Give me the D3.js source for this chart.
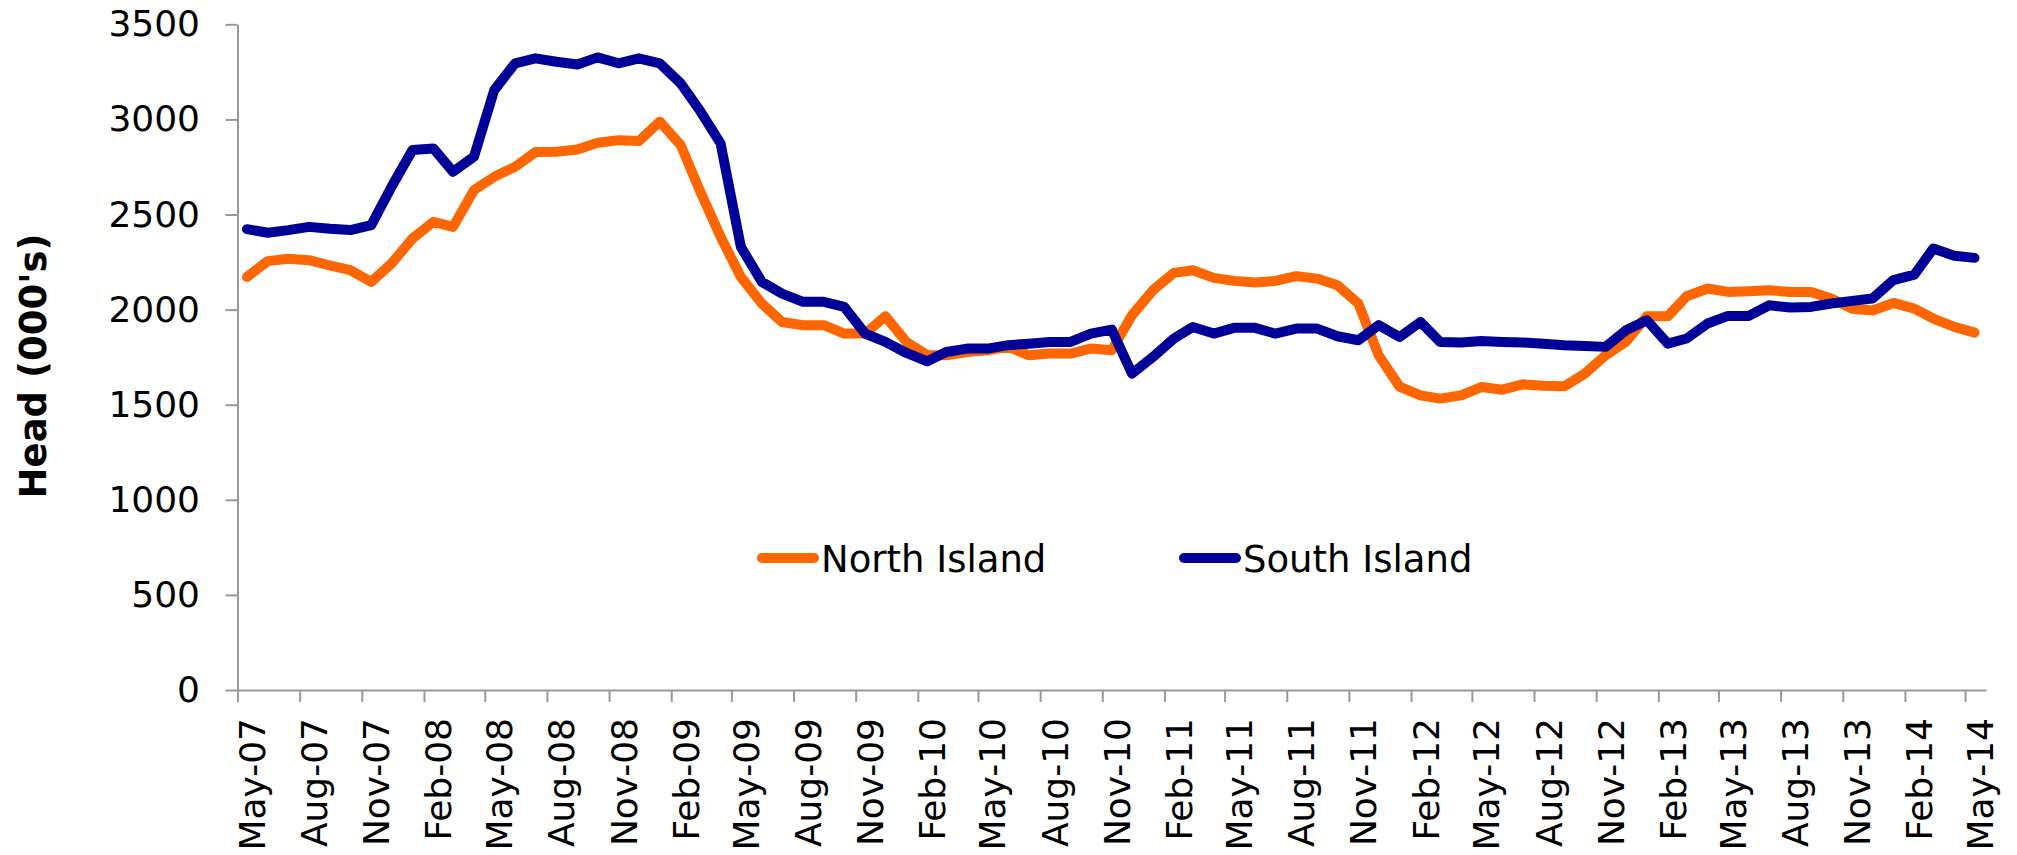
<!DOCTYPE html>
<html>
<head>
<meta charset="utf-8">
<script src="https://cdn.jsdelivr.net/npm/d3@7"></script>
<style>
  body { margin: 0; background: #fff; }
  text { font-family: "DejaVu Sans", Verdana, sans-serif; fill: #000; }
</style>
</head>
<body>
<script>
// monthly head counts (000's), May-07 .. May-14
var northIsland = [2172, 2255, 2267, 2260, 2232, 2207, 2146, 2242, 2374, 2461, 2435, 2628,
  2698, 2751, 2828, 2830, 2842, 2877, 2891, 2886, 2988, 2865, 2628, 2383,
  2172, 2032, 1935, 1918, 1918, 1874, 1874, 1965, 1830, 1760, 1760, 1777,
  1786, 1804, 1760, 1769, 1769, 1795, 1786, 1970, 2102, 2193, 2207, 2167,
  2151, 2142, 2151, 2176, 2163, 2128, 2032, 1760, 1595, 1549, 1532, 1549,
  1593, 1579, 1607, 1600, 1597, 1663, 1760, 1830, 1965, 1965, 2070, 2111,
  2093, 2097, 2102, 2093, 2093, 2058, 2005, 1995, 2035, 2005, 1953, 1909, 1879];

var southIsland = [2423, 2404, 2418, 2435, 2425, 2418, 2444, 2646, 2839, 2847, 2725, 2804,
  3154, 3295, 3321, 3303, 3289, 3326, 3295, 3321, 3295, 3189, 3049, 2874,
  2330, 2146, 2084, 2041, 2041, 2014, 1874, 1830, 1772, 1728, 1777, 1795,
  1795, 1813, 1821, 1830, 1830, 1874, 1895, 1663, 1751, 1848, 1909, 1874,
  1904, 1904, 1874, 1900, 1900, 1860, 1839, 1918, 1856, 1935, 1830, 1827,
  1835, 1830, 1827, 1821, 1813, 1809, 1804, 1891, 1944, 1821, 1848, 1927,
  1967, 1967, 2023, 2011, 2014, 2032, 2046, 2058, 2155, 2184, 2321, 2283, 2272];

var seriesNames = ["North Island", "South Island"];
var seriesColours = ["#FF6600", "#000099"];

var tickLabels = ["May-07", "Aug-07", "Nov-07", "Feb-08", "May-08", "Aug-08", "Nov-08",
  "Feb-09", "May-09", "Aug-09", "Nov-09", "Feb-10", "May-10", "Aug-10", "Nov-10",
  "Feb-11", "May-11", "Aug-11", "Nov-11", "Feb-12", "May-12", "Aug-12", "Nov-12",
  "Feb-13", "May-13", "Aug-13", "Nov-13", "Feb-14", "May-14"];

var yTicks = [0, 500, 1000, 1500, 2000, 2500, 3000, 3500];

var w = 2017;
var h = 855;
var plotLeft = 237.5;
var plotRight = 1986;
var plotTop = 24.3;
var plotBottom = 690;

// points sit mid-month on a date axis
var dates = northIsland.map(function(d, i){ return new Date(2007, 4 + i, 15); });
var tickDates = tickLabels.map(function(d, i){ return new Date(2007, 4 + i * 3, 1); });

var svg = d3.select("body")
  .append("svg")
  .attr("width", w)
  .attr("height", h);

var xScale = d3.scaleTime()
  .domain([new Date(2007, 4, 1), new Date(2007, 4 + northIsland.length, 1)])
  .range([plotLeft, plotRight]);

var yScale = d3.scaleLinear()
  .domain([0, 3500])
  .range([plotBottom, plotTop]);

var xAxis = d3.axisBottom(xScale)
  .tickValues(tickDates)
  .tickSize(12)
  .tickSizeOuter(0)
  .tickFormat(function(d, i){ return tickLabels[i]; });

var yAxis = d3.axisLeft(yScale)
  .tickValues(yTicks)
  .tickSize(12)
  .tickSizeOuter(0)
  .tickPadding(25.5)
  .tickFormat(d3.format("d"));

var gx = svg.append("g")
  .attr("transform", "translate(0," + plotBottom + ")")
  .call(xAxis);

gx.selectAll("text")
  .attr("x", -28)
  .attr("y", 0)
  .attr("dy", 27)
  .attr("transform", "rotate(-90)")
  .style("text-anchor", "end")
  .style("font-size", "36px");

var gy = svg.append("g")
  .attr("transform", "translate(" + plotLeft + ",0)")
  .call(yAxis);

gy.selectAll("text").style("font-size", "36px");

svg.selectAll(".domain, .tick line")
  .attr("stroke", "#999999")
  .attr("stroke-width", 2);

svg.append("text")
  .attr("transform", "translate(46,366) rotate(-90)")
  .style("text-anchor", "middle")
  .style("font-size", "37px")
  .style("font-weight", "bold")
  .text("Head (000's)");

var line = d3.line()
  .x(function(d){ return xScale(d.date); })
  .y(function(d){ return yScale(d.value); });

var series = [northIsland, southIsland].map(function(vals, k){
  return {
    name: seriesNames[k],
    colour: seriesColours[k],
    values: vals.map(function(v, i){ return { date: dates[i], value: v }; })
  };
});

svg.selectAll(".series")
  .data(series)
  .enter().append("path")
  .attr("class", "series")
  .attr("d", function(d){ return line(d.values); })
  .attr("fill", "none")
  .attr("stroke", function(d){ return d.colour; })
  .attr("stroke-width", 10)
  .attr("stroke-linecap", "round")
  .attr("stroke-linejoin", "round");

// legend
var legendX = [762, 1184];
var legend = svg.selectAll(".legend")
  .data(series)
  .enter().append("g")
  .attr("class", "legend")
  .attr("transform", function(d, i){ return "translate(" + legendX[i] + ",558)"; });

legend.append("line")
  .attr("x1", 0)
  .attr("x2", 52)
  .attr("stroke", function(d){ return d.colour; })
  .attr("stroke-width", 10)
  .attr("stroke-linecap", "round");

legend.append("text")
  .attr("x", 59)
  .attr("y", 13.7)
  .style("font-size", "37px")
  .text(function(d){ return d.name; });
</script>
</body>
</html>
